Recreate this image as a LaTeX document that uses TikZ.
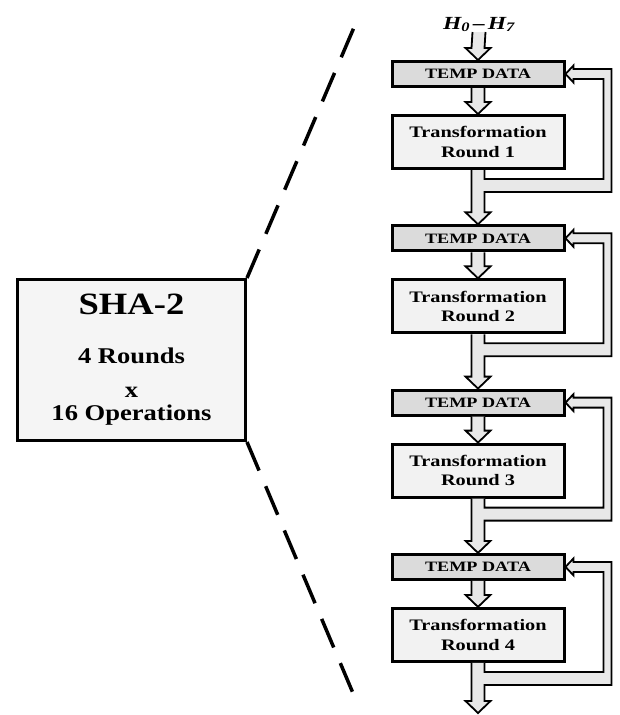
\documentclass[tikz,border=0pt]{standalone}
\usepackage{fontspec}
\setmainfont{Liberation Serif}
\newfontfamily\widefont[FakeStretch=1.27]{Liberation Serif}
\newfontfamily\shafont[FakeStretch=1.18]{Liberation Serif}
\usetikzlibrary{calc}
\definecolor{tempgray}{gray}{0.86}
\definecolor{roundgray}{gray}{0.95}
\definecolor{arrowgray}{gray}{0.91}
\definecolor{shagray}{gray}{0.96}
% hollow block arrow from #1 down to #2
\def\blockdown#1#2{\draw[blockarrow] ($#1+(-6.5,0)$) -- ($#2+(-6.5,12)$) -- ++(-6,0) -- #2 -- ++(12.5,12) -- ++(-6,0) -- ($#1+(6.5,0)$);}
% output of round #1, fed back to #2, going on to #3
\def\roundout#1#2#3{\draw[blockarrow] ($(#1.south)+(-6.5,0)$) -- ($#3+(-6.5,12)$) -- ++(-6,0) -- #3 -- ++(12.5,12) -- ++(-6,0) -- ($(#1.south)+(6.5,-22)$) -- ++(127,0) |- ($(#2.east)+(8,5)$) -- ++(0,3.5) -- (#2.east) -- ++(8,-8.5) -- ++(0,3.5) -- ++(30,0) |- ($(#1.south)+(6.5,-9)$) -- ($(#1.south)+(6.5,0)$);}

\begin{document}
\begin{tikzpicture}[x=1pt,y=1pt,
    tempbox/.style={draw, line width=3pt, fill=tempgray, minimum width=172pt, minimum height=25pt, inner sep=0pt, font=\widefont\bfseries\fontsize{14.3}{15}\selectfont},
    roundbox/.style={draw, line width=3pt, fill=roundgray, minimum width=172pt, minimum height=53pt, inner sep=0pt, align=center, font=\widefont\bfseries\fontsize{16}{19.5}\selectfont},
    shabox/.style={draw, line width=3pt, fill=shagray, minimum width=228pt, minimum height=161pt, inner sep=0pt, align=center, font=\shafont\bfseries\fontsize{22.5}{24}\selectfont},
    blockarrow/.style={draw, line width=1.8pt, fill=arrowgray, line join=miter},
    zoomline/.style={line width=3.5pt, dash pattern=on 31pt off 17pt}]
  \useasboundingbox (0,0) rectangle (619,-715);
  % overview box and zoom lines
  \node[shabox] (sha) at (131.5,-360) {{\fontsize{31}{31}\selectfont SHA-2}\\[25pt]4 Rounds\\[10pt]x\\[-1pt]16 Operations};
  \coordinate (ztop) at (358,-18);
  \coordinate (zbot) at (358,-705);
  \draw[zoomline] (sha.north east) -- (ztop);
  \draw[zoomline] (sha.south east) -- (zbot);
  % rounds
  \node[anchor=south, inner sep=0pt, font=\widefont\bfseries\itshape\fontsize{18.5}{19}\selectfont] (hin) at (479,-32) {H\textsubscript{0}\,–\,H\textsubscript{7}};
  \node[tempbox] (temp1) at (478,-74) {TEMP DATA};
  \node[roundbox] (tr1) at (478,-142) {Transformation\\Round 1};
  \node[tempbox] (temp2) at (478,-238.3) {TEMP DATA};
  \node[roundbox] (tr2) at (478,-306.3) {Transformation\\Round 2};
  \node[tempbox] (temp3) at (478,-402.6) {TEMP DATA};
  \node[roundbox] (tr3) at (478,-470.6) {Transformation\\Round 3};
  \node[tempbox] (temp4) at (478,-566.9) {TEMP DATA};
  \node[roundbox] (tr4) at (478,-634.9) {Transformation\\Round 4};
  \coordinate (out) at (478,-713);
  % arrows
  \blockdown{(hin.south)}{(temp1.north)}
  \blockdown{(temp1.south)}{(tr1.north)}
  \roundout{tr1}{temp1}{(temp2.north)}
  \blockdown{(temp2.south)}{(tr2.north)}
  \roundout{tr2}{temp2}{(temp3.north)}
  \blockdown{(temp3.south)}{(tr3.north)}
  \roundout{tr3}{temp3}{(temp4.north)}
  \blockdown{(temp4.south)}{(tr4.north)}
  \roundout{tr4}{temp4}{(out)}
\end{tikzpicture}
\end{document}
